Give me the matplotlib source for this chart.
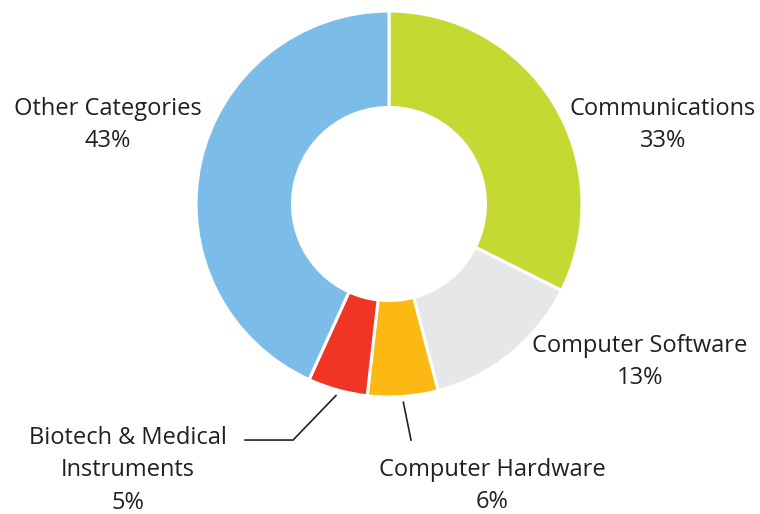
import matplotlib.pyplot as plt
import numpy as np

categories = ["Communications", "Computer Software", "Computer Hardware",
              "Biotech & Medical\nInstruments", "Other Categories"]
# slice sizes; printed labels are the rounded figures
shares = [32.4, 13.5, 5.9, 5.0, 43.2]
pct_labels = ["33%", "13%", "6%", "5%", "43%"]
colors = ["#C4D932", "#E6E7E8", "#FDB913", "#EF3524", "#7BBDE8"]

plt.rcParams["font.family"] = ["Open Sans", "DejaVu Sans"]

fig = plt.figure(figsize=(7.6, 5.14), dpi=100)
ax = fig.add_axes([0, 0, 1, 1])

wedges, _ = ax.pie(shares, colors=colors, startangle=90, counterclock=False,
                   radius=1.0, wedgeprops=dict(width=0.5, edgecolor="white", linewidth=2.2))

ax.set_xlim(-389 / 193, (760 - 389) / 193)
ax.set_ylim(-(514 - 204) / 193, 204 / 193)
ax.set_aspect("equal")
ax.axis("off")

# label placement (text centre), per category
label_pos = [(1.42, 0.41), (1.30, -0.82), (0.534, -1.462), (-1.352, -1.38), (-1.456, 0.41)]
for name, pct, (x, y) in zip(categories, pct_labels, label_pos):
    ax.text(x, y, f"{name}\n{pct}", ha="center", va="center", fontsize=17,
            color="#231F20", linespacing=1.47)


def mid_dir(w):
    a = np.deg2rad((w.theta1 + w.theta2) / 2)
    return np.cos(a), np.sin(a)


# leader lines for the two small slices
dx, dy = mid_dir(wedges[3])
ax.plot([1.03 * dx, -0.497, -0.746], [1.03 * dy, -1.223, -1.223], color="#231F20", lw=1.2)
dx, dy = mid_dir(wedges[2])
ax.plot([1.03 * dx, 0.114], [1.03 * dy, -1.223], color="#231F20", lw=1.2)

fig.savefig("out.png", dpi=100)
